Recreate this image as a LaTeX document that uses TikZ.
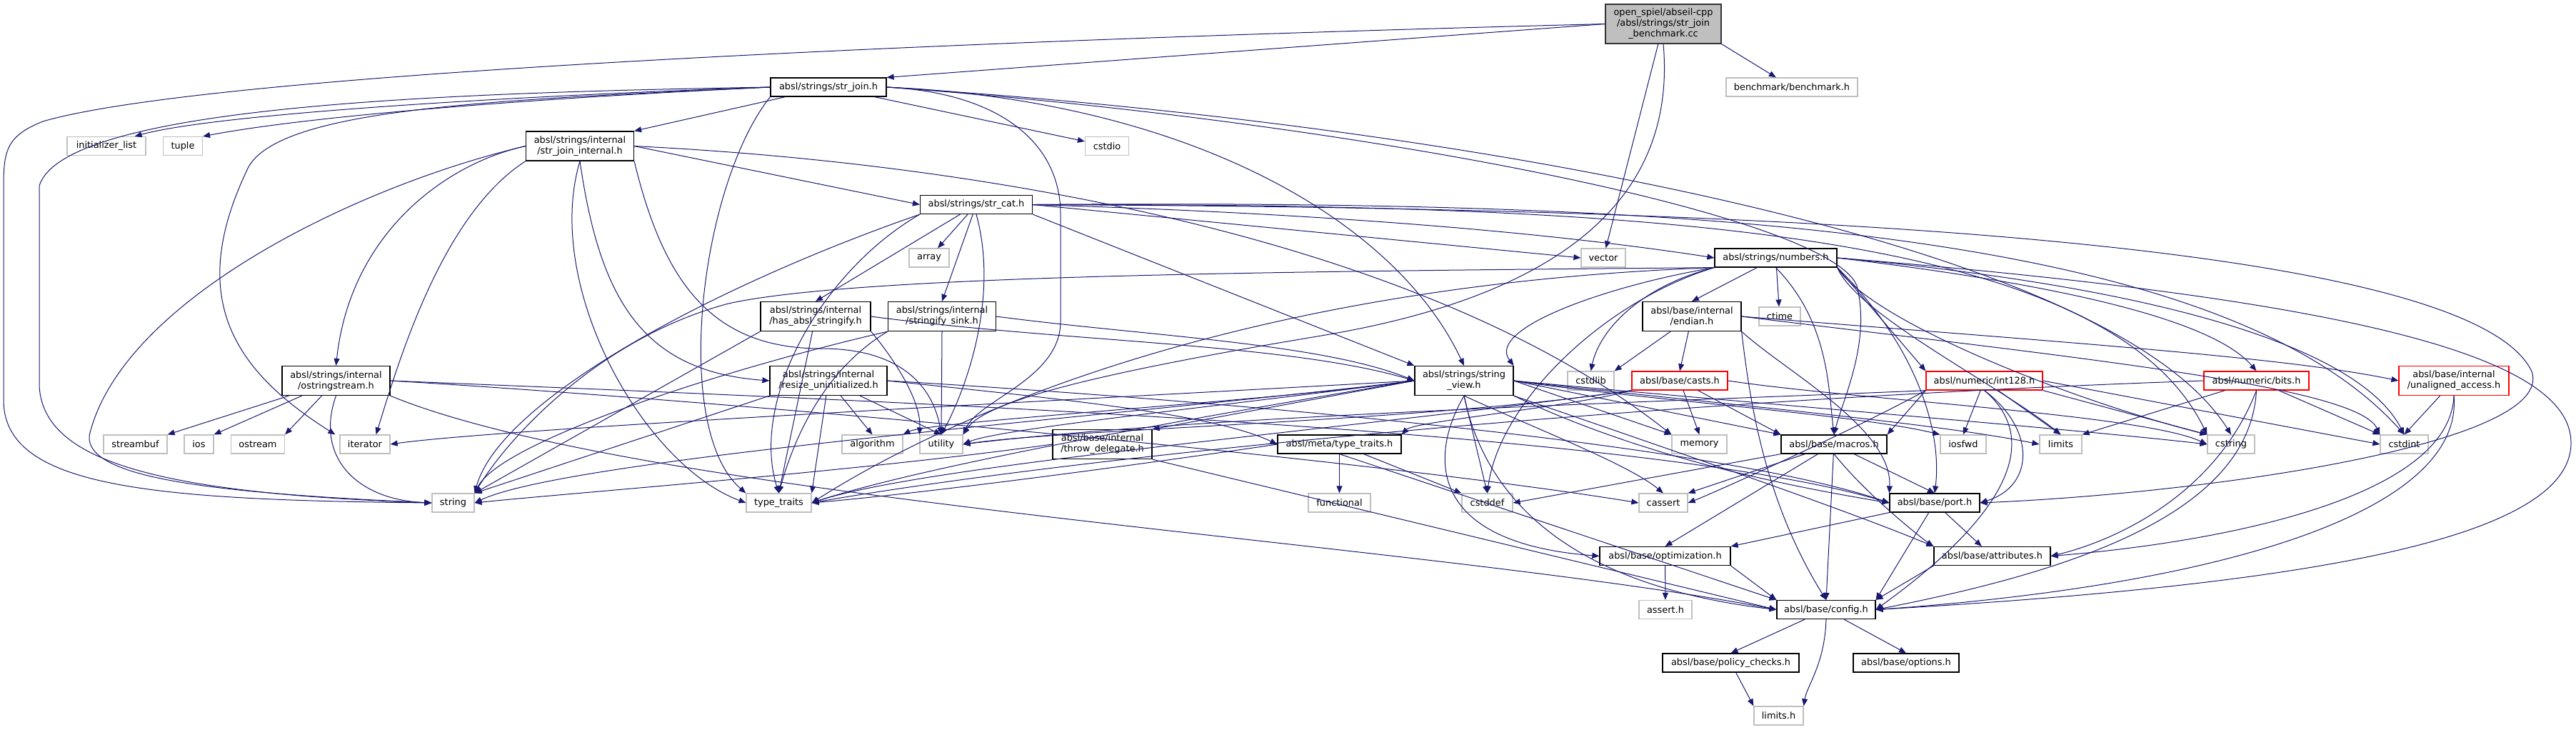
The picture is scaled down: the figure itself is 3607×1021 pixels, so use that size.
\documentclass[tikz,border=0pt]{standalone}
\usepackage{fontspec}
\setmainfont{DejaVu Sans}
\usetikzlibrary{arrows.meta}
\definecolor{navy}{HTML}{191970}
\definecolor{sysgray}{HTML}{BFBFBF}
\definecolor{maingray}{HTML}{BFBFBF}
\definecolor{redb}{HTML}{FF0000}
\newcommand\nodefont{\fontsize{12.9pt}{15pt}\selectfont}
\tikzset{
  nd/.style={draw=black, fill=white, line width=1.2pt, inner sep=0pt, minimum height=26pt, align=center, font=\nodefont},
  sy/.style={nd, draw=sysgray},
  rd/.style={nd, draw=redb},
  tw/.style={minimum height=41pt},
  e/.style={draw=navy, line width=1pt, -{Triangle[length=10pt,width=8pt]}},
}
\begin{document}
\begin{tikzpicture}[x=1pt,y=-1pt]
\useasboundingbox (0,0) rectangle (3607,1021);
% nodes
\node[nd,minimum width=162pt,minimum height=55pt,fill=maingray,draw=black!80] (main) at (2329,33.5) {open\_spiel/abseil-cpp\\/absl/strings/str\_join\\\_benchmark.cc};
\node[nd,minimum width=162pt] (strjoin) at (1160,122) {absl/strings/str\_join.h};
\node[sy,minimum width=184pt] (bench) at (2509,122) {benchmark/benchmark.h};
\node[sy,minimum width=110pt] (initlist) at (149,204.5) {initializer\_list};
\node[sy,minimum width=55pt] (tuple) at (256,204.5) {tuple};
\node[nd,tw,minimum width=151pt] (sjint) at (812,204.5) {absl/strings/internal\\/str\_join\_internal.h};
\node[sy,minimum width=61pt] (cstdio) at (1550,204.5) {cstdio};
\node[nd,minimum width=157pt] (strcat) at (1367,286.5) {absl/strings/str\_cat.h};
\node[sy,minimum width=56pt] (array) at (1301,361) {array};
\node[sy,minimum width=62pt] (vector) at (2245,361) {vector};
\node[nd,minimum width=171pt] (numbers) at (2486.5,361) {absl/strings/numbers.h};
\node[nd,tw,minimum width=154pt] (hasstr) at (1142,443) {absl/strings/internal\\/has\_absl\_stringify.h};
\node[nd,tw,minimum width=151pt] (sink) at (1319,443) {absl/strings/internal\\/stringify\_sink.h};
\node[nd,tw,minimum width=138pt] (endian) at (2369,443) {absl/base/internal\\/endian.h};
\node[sy,minimum width=58pt] (ctime) at (2492,443) {ctime};
\node[nd,tw,minimum width=151pt] (ostr) at (470.5,533) {absl/strings/internal\\/ostringstream.h};
\node[nd,tw,minimum width=164pt] (resize) at (1160,533) {absl/strings/internal\\/resize\_uninitialized.h};
\node[nd,tw,minimum width=138pt] (sv) at (2050,533) {absl/strings/string\\\_view.h};
\node[sy,minimum width=65pt] (cstdlib) at (2227.5,533) {cstdlib};
\node[rd,minimum width=134pt] (casts) at (2352,533) {absl/base/casts.h};
\node[rd,minimum width=163pt] (int128) at (2778.5,533) {absl/numeric/int128.h};
\node[rd,minimum width=147pt] (bits) at (3159.5,533) {absl/numeric/bits.h};
\node[rd,tw,minimum width=154pt] (unal) at (3436,533) {absl/base/internal\\/unaligned\_access.h};
\node[sy,minimum width=89pt] (streambuf) at (189.5,622) {streambuf};
\node[sy,minimum width=41pt] (ios) at (278.5,622) {ios};
\node[sy,minimum width=75pt] (ostream) at (361,622) {ostream};
\node[sy,minimum width=70pt] (iterator) at (511,622) {iterator};
\node[sy,minimum width=85pt] (algorithm) at (1221.5,622) {algorithm};
\node[sy,minimum width=60pt] (utility) at (1318,622) {utility};
\node[nd,tw,minimum width=139pt] (throwd) at (1543.5,622) {absl/base/internal\\/throw\_delegate.h};
\node[nd,minimum width=173pt] (metatt) at (1875.5,622) {absl/meta/type\_traits.h};
\node[sy,minimum width=77pt] (memory) at (2379.5,622) {memory};
\node[nd,minimum width=148pt] (macros) at (2568,622) {absl/base/macros.h};
\node[sy,minimum width=64pt] (iosfwd) at (2749,622) {iosfwd};
\node[sy,minimum width=59pt] (limits) at (2885.5,622) {limits};
\node[sy,minimum width=66pt] (cstring) at (3124,622) {cstring};
\node[sy,minimum width=67pt] (cstdint) at (3366.5,622) {cstdint};
\node[sy,minimum width=59pt] (string) at (634.5,704) {string};
\node[sy,minimum width=91pt] (typetraits) at (1090.5,704) {type\_traits};
\node[sy,minimum width=87pt] (functional) at (1875.5,704) {functional};
\node[sy,minimum width=71pt] (cstddef) at (2082.5,704) {cstddef};
\node[sy,minimum width=68pt] (cassert) at (2329,704) {cassert};
\node[nd,minimum width=126pt] (port) at (2709,704) {absl/base/port.h};
\node[nd,minimum width=183pt] (optim) at (2331.5,778.5) {absl/base/optimization.h};
\node[nd,minimum width=163pt] (attr) at (2789.5,778.5) {absl/base/attributes.h};
\node[sy,minimum width=74pt] (asserth) at (2332,853.5) {assert.h};
\node[nd,minimum width=138pt] (config) at (2557,853.5) {absl/base/config.h};
\node[nd,minimum width=191pt] (policy) at (2423.5,928) {absl/base/policy\_checks.h};
\node[nd,minimum width=148pt] (options) at (2669,928) {absl/base/options.h};
\node[sy,minimum width=69pt] (limitsh) at (2490.5,1002) {limits.h};

% ---- edges ----
% main
\draw[e] (main.west) -- (strjoin.north east);
\draw[e] (main.south east) -- (bench);
\draw[e] (main) -- (vector);
\draw[e] (main.west) .. controls (1400,55) and (300,100) .. (60,170) .. controls (10,190) and (5,210) .. (5,260) -- (5,560) .. controls (5,680) and (200,700) .. (string.west);
\draw[e] (main.south) .. controls (2350,300) and (2150,420) .. (1850,470) .. controls (1550,520) and (1380,560) .. (utility.north east);
% str_join.h
\draw[e] (strjoin.west) .. controls (700,135) and (300,160) .. ([xshift=-16pt]initlist.north east);
\draw[e] (strjoin.west) .. controls (700,140) and (420,165) .. (tuple.north east);
\draw[e] (strjoin.west) .. controls (700,140) and (380,150) .. (345,240) .. controls (260,420) and (330,520) .. ([xshift=-6pt]iterator.north west);
\draw[e] (strjoin.west) .. controls (600,130) and (90,150) .. (55,260) -- (55,540) .. controls (60,640) and (200,690) .. (string.west);
\draw[e] (strjoin) -- (sjint.north east);
\draw[e] (strjoin) -- (cstdio);
\draw[e] (strjoin.east) .. controls (1650,140) and (1950,300) .. (sv.north);
\draw[e] (strjoin.east) .. controls (1400,130) and (1485,200) .. (1485,300) -- (1485,450) .. controls (1485,530) and (1370,560) .. (utility.north east);
\draw[e] (strjoin.south west) .. controls (980,260) and (940,600) .. (typetraits.north west);
\draw[e] (strjoin.east) .. controls (1900,170) and (2560,300) .. (2600,400) .. controls (2620,480) and (2580,560) .. (macros.north);
\draw[e] (strjoin.east) .. controls (2000,170) and (2950,330) .. (cstring.north);
% str_join_internal.h
\draw[e] (sjint.east) -- (strcat.west);
\draw[e] (sjint.west) .. controls (620,230) and (490,330) .. (ostr.north);
\draw[e] (sjint.south) .. controls (840,420) and (900,520) .. (resize.west);
\draw[e] (sjint.south west) .. controls (620,300) and (560,500) .. ([xshift=-20pt]iterator.north east);
\draw[e] (sjint.west) .. controls (500,260) and (170,420) .. (125,610) .. controls (120,670) and (300,690) .. (string.west);
\draw[e] (sjint.east) .. controls (1400,230) and (2000,340) .. (memory.north west);
\draw[e] (sjint.south) .. controls (760,400) and (900,650) .. (typetraits.west);
\draw[e] (sjint.south east) .. controls (930,400) and (1000,488) .. (1150,488) .. controls (1280,488) and (1310,560) .. (utility.north);
% str_cat.h
\draw[e] (strcat) -- (array);
\draw[e] (strcat) -- (hasstr.north);
\draw[e] (strcat) -- (sink.north);
\draw[e] (strcat.south west) .. controls (1000,400) and (700,560) .. (string.north east);
\draw[e] (strcat.south west) .. controls (1150,380) and (1050,560) .. (typetraits.north);
\draw[e] (strcat.south) .. controls (1400,420) and (1350,550) .. (utility.north);
\draw[e] (strcat.east) -- (vector.west);
\draw[e] (strcat.east) .. controls (1900,300) and (2200,330) .. (numbers.west);
\draw[e] (strcat.south east) -- (sv.north west);
\draw[e] (strcat.east) .. controls (2300,280) and (3100,310) .. (cstdint.north);
\draw[e] (strcat.east) .. controls (2300,285) and (2950,320) .. (cstring.north west);
\draw[e] (strcat.east) .. controls (2300,290) and (3450,320) .. (3545,520) .. controls (3580,620) and (3100,690) .. (port.east);
% numbers.h
\draw[e] (numbers) -- (endian.north);
\draw[e] (numbers) -- (ctime);
\draw[e] (numbers.south west) .. controls (2300,400) and (2240,460) .. (cstdlib.north);
\draw[e] (numbers.south west) .. controls (2250,400) and (2080,460) .. (sv.north east);
\draw[e] (numbers.south west) .. controls (1800,380) and (1200,385) .. (1020,425) .. controls (850,470) and (720,600) .. (string.north east);
\draw[e] (numbers.south west) .. controls (1700,400) and (1300,600) .. (typetraits.east);
\draw[e] (numbers.south west) .. controls (2250,420) and (2100,560) .. (cstddef.north);
\draw[e] (numbers.south east) .. controls (2620,450) and (2900,560) .. (cstring.north west);
\draw[e] (numbers.south east) .. controls (2600,440) and (2800,540) .. (limits.north);
\draw[e] (numbers.south) .. controls (2560,450) and (2560,540) .. (macros.north);
\draw[e] (numbers.south east) .. controls (2680,480) and (2720,600) .. (port.north);
\draw[e] (numbers.east) .. controls (3300,420) and (3600,500) .. (3600,620) .. controls (3600,760) and (3200,820) .. (config.east);
\draw[e] (numbers.south east) -- (int128.north west);
\draw[e] (numbers.east) .. controls (2900,400) and (3100,450) .. (bits.north);
\draw[e] (numbers.east) .. controls (3000,400) and (3300,480) .. (cstdint.north);
% endian.h
\draw[e] (endian) -- (cstdlib.north east);
\draw[e] (endian) -- (casts.north);
\draw[e] (endian.east) .. controls (2900,480) and (3200,500) .. (unal.west);
\draw[e] (endian.east) .. controls (2900,500) and (3300,540) .. (cstdint.north west);
\draw[e] (endian.south east) .. controls (2450,560) and (2470,700) .. (config.north);
\draw[e] (endian.south east) .. controls (2500,520) and (2650,600) .. (port.north west);
% casts.h
\draw[e] (casts) -- (memory.north);
\draw[e] (casts) -- (macros.north west);
\draw[e] (casts.south west) .. controls (2200,570) and (1980,590) .. (metatt.north east);
\draw[e] (casts.east) .. controls (2600,560) and (3000,580) .. (cstring.west);
\draw[e] (casts.south west) .. controls (1900,600) and (1300,650) .. (typetraits.east);
\draw[e] (casts.south west) .. controls (2000,590) and (1500,600) .. (utility.east);
% int128.h
\draw[e] (int128) -- (iosfwd.north);
\draw[e] (int128) -- (limits.north);
\draw[e] (int128.south east) -- (cstring.north west);
\draw[e] (int128.east) -- (cstdint.west);
\draw[e] (int128.south west) .. controls (2600,600) and (2400,690) .. (cassert.east);
\draw[e] (int128.south west) .. controls (2400,560) and (1700,580) .. (utility.east);
\draw[e] (int128.south) .. controls (2900,650) and (2700,800) .. (config.east);
\draw[e] (int128.south west) -- (macros.north east);
\draw[e] (int128.south) .. controls (2850,600) and (2850,680) .. (port.east);
% bits.h
\draw[e] (bits) -- (limits.north east);
\draw[e] (bits) -- (cstdint.north west);
\draw[e] (bits.west) .. controls (2300,560) and (1500,640) .. (typetraits.east);
\draw[e] (bits.south) .. controls (3100,700) and (2950,760) .. (attr.east);
\draw[e] (bits.south) .. controls (3150,720) and (2900,800) .. (config.east);
% unaligned_access.h
\draw[e] (unal) -- (cstdint.north);
\draw[e] (unal.south) .. controls (3430,700) and (3100,760) .. (attr.east);
\draw[e] (unal.south) .. controls (3450,720) and (3100,820) .. (config.east);
% string_view.h
\draw[e] (sv.west) .. controls (1800,560) and (1300,590) .. (algorithm.north east);
\draw[e] (sv.south) .. controls (2150,600) and (2280,650) .. (cassert.north);
\draw[e] (sv.south) -- (cstddef.north);
\draw[e] (sv.east) .. controls (2400,560) and (2900,600) .. (cstring.west);
\draw[e] (sv.east) .. controls (2300,560) and (2600,580) .. (iosfwd.north west);
\draw[e] (sv.west) .. controls (1500,560) and (700,600) .. (iterator.east);
\draw[e] (sv.east) .. controls (2350,560) and (2700,590) .. (limits.west);
\draw[e] (sv.east) -- (memory.north west);
\draw[e] (sv.west) .. controls (1600,580) and (800,640) .. (string.east);
\draw[e] (sv.west) .. controls (1700,580) and (1300,650) .. (typetraits.east);
\draw[e] (sv.west) .. controls (1700,570) and (1400,600) .. (utility.east);
\draw[e] (sv.west) -- (throwd.north east);
\draw[e] (sv.east) -- (macros.north west);
\draw[e] (sv.south) .. controls (2000,640) and (2000,760) .. (optim.west);
\draw[e] (sv.south east) .. controls (2300,640) and (2500,680) .. (port.west);
\draw[e] (sv.south) .. controls (2080,700) and (2200,820) .. (config.west);
\draw[e] (sv.south east) .. controls (2400,650) and (2600,720) .. (attr.north west);
% throw_delegate.h
\draw[e] (throwd.west) .. controls (1200,660) and (800,690) .. (string.east);
\draw[e] (throwd.south east) -- (config.west);
% meta/type_traits.h
\draw[e] (metatt) -- (functional);
\draw[e] (metatt) -- (cstddef.north west);
\draw[e] (metatt.west) .. controls (1600,650) and (1300,690) .. (typetraits.east);
\draw[e] (metatt.south) -- (config.north west);
% macros.h
\draw[e] (macros) -- (cassert.north east);
\draw[e] (macros.south west) -- (cstddef.east);
\draw[e] (macros.south) .. controls (2620,700) and (2700,760) .. (attr.north west);
\draw[e] (macros) -- (config.north);
\draw[e] (macros) -- (optim.north);
\draw[e] (macros) -- (port.north);
% port.h
\draw[e] (port) -- (attr);
\draw[e] (port) -- (config.north east);
\draw[e] (port.south west) -- (optim.north east);
% optimization.h
\draw[e] (optim) -- (asserth);
\draw[e] (optim.south east) -- (config.north west);
% attributes.h
\draw[e] (attr.south west) -- (config.north east);
% config.h
\draw[e] (config) -- (policy.north);
\draw[e] (config) -- (options.north);
\draw[e] (config.south) .. controls (2555,930) and (2530,960) .. (limitsh.north east);
\draw[e] (policy) -- (limitsh.north west);
% ostringstream.h
\draw[e] (ostr) -- (streambuf.north east);
\draw[e] (ostr) -- (ios.north east);
\draw[e] (ostr) -- (ostream.north east);
\draw[e] (ostr.south) .. controls (440,640) and (500,700) .. (string.west);
\draw[e] (ostr.south east) .. controls (900,700) and (2000,760) .. (config.west);
\draw[e] (ostr.east) .. controls (1200,560) and (2300,600) .. (port.west);
\draw[e] (ostr.east) .. controls (1000,560) and (1900,640) .. (cassert.west);
% resize_uninitialized.h
\draw[e] (resize) -- (algorithm.north);
\draw[e] (resize.south west) -- (string.north east);
\draw[e] (resize) -- (typetraits.north east);
\draw[e] (resize) -- (utility.north);
\draw[e] (resize.east) .. controls (1700,560) and (2400,620) .. (port.west);
\draw[e] (resize.east) .. controls (1500,560) and (1700,580) .. (metatt.west);
% has_absl_stringify.h
\draw[e] (hasstr.south west) -- (string.north east);
\draw[e] (hasstr) -- (typetraits.north);
\draw[e] (hasstr.south east) .. controls (1250,500) and (1290,560) .. (utility.north west);
\draw[e] (hasstr.east) .. controls (1500,480) and (1800,480) .. (sv.west);
% stringify_sink.h
\draw[e] (sink.south west) .. controls (1000,520) and (700,620) .. (string.north east);
\draw[e] (sink.south west) .. controls (1150,520) and (1110,620) .. (typetraits.north);
\draw[e] (sink.south) -- (utility.north);
\draw[e] (sink.east) .. controls (1600,470) and (1850,480) .. (sv.west);
\end{tikzpicture}
\end{document}
